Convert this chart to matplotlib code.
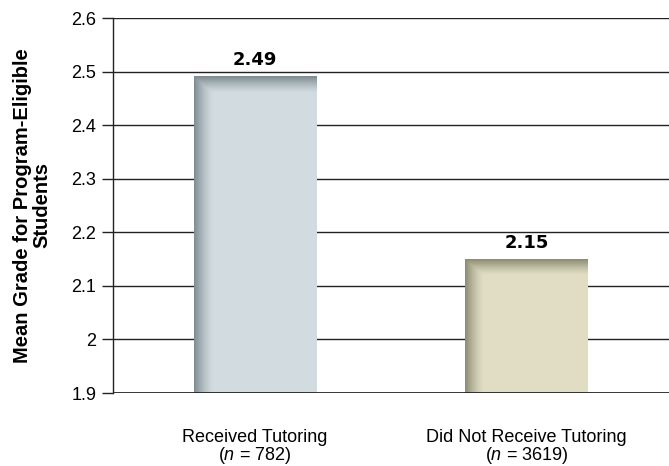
import matplotlib
matplotlib.use("Agg")
import matplotlib.pyplot as plt
import numpy as np

categories = ["Received Tutoring\n($n$ = 782)", "Did Not Receive Tutoring\n($n$ = 3619)"]
values = [2.49, 2.15]
value_labels = ["2.49", "2.15"]
yticks = [1.9, 2.0, 2.1, 2.2, 2.3, 2.4, 2.5, 2.6]
ytick_labels = ["1.9", "2", "2.1", "2.2", "2.3", "2.4", "2.5", "2.6"]

base_colors = [(0.82, 0.86, 0.88), (0.88, 0.87, 0.77)]
dark_colors = [(0.50, 0.55, 0.57), (0.55, 0.55, 0.45)]

plt.rcParams['font.family'] = ['Liberation Sans', 'DejaVu Sans']
plt.rcParams['mathtext.fontset'] = 'custom'
plt.rcParams['mathtext.it'] = 'Liberation Sans:italic'
plt.rcParams['mathtext.rm'] = 'Liberation Sans'

fig = plt.figure(figsize=(6.69, 4.66), dpi=100)
ax = fig.add_axes([113/669, 1 - 393/466, 556/669, (393 - 18)/466])

ymin, ymax = 1.9, 2.6
width = 0.45

for y in yticks[1:]:
    ax.axhline(y, color='#222222', lw=1.0, zorder=1)

for i, v in enumerate(values):
    nx, ny = 200, 200
    x0, x1 = i - width / 2, i + width / 2
    base = np.array(base_colors[i])
    dark = np.array(dark_colors[i])
    xs = np.linspace(0, 1, nx)
    hx = np.clip(1 - xs / 0.16, 0, 1) ** 1.5
    bar_px = (v - ymin) / (ymax - ymin) * 375
    ys = np.linspace(0, bar_px, ny)
    hy = np.clip(1 - ys / 16.0, 0, 1) ** 1.3
    h = np.maximum(hx[None, :], hy[:, None])
    img = base[None, None, :] * (1 - h[..., None]) + dark[None, None, :] * h[..., None]
    ax.imshow(img, extent=[x0, x1, ymin, v], aspect='auto', origin='upper', zorder=2, interpolation='bilinear')
    ax.text(i, v + 0.014, value_labels[i], ha='center', va='bottom', fontsize=13,
            fontweight='bold', family=['DejaVu Sans'], zorder=3)

ax.set_xlim(-0.523, 1.525)
ax.set_ylim(ymin, ymax)
ax.axhline(ymin, color='#222222', lw=2.0, zorder=3)

ax.set_yticks(yticks)
ax.set_yticklabels(ytick_labels, fontsize=13)
ax.tick_params(axis='y', direction='out', length=8, width=1, color='#222222', pad=4)
ax.set_xticks([0, 1])
ax.set_xticklabels(categories, fontsize=13, linespacing=0.95)
ax.tick_params(axis='x', length=0, pad=26)

for s in ['top', 'right', 'bottom']:
    ax.spines[s].set_visible(False)
ax.spines['left'].set_color('#222222')
ax.spines['left'].set_linewidth(1.0)

ax.set_ylabel("Mean Grade for Program-Eligible\nStudents", fontsize=14.5, fontweight='bold', labelpad=14, linespacing=1.05)

fig.savefig("out.png", dpi=100)
